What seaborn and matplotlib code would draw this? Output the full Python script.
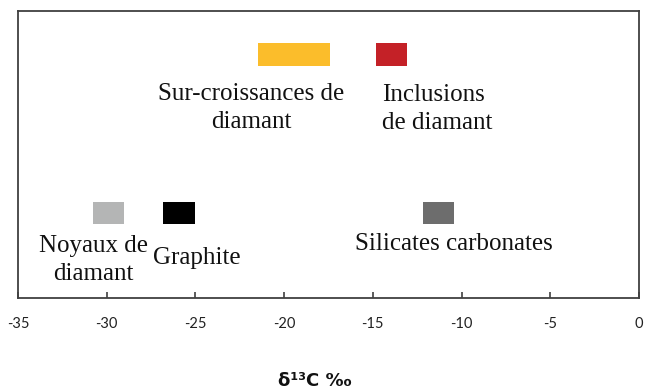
import matplotlib
matplotlib.use("Agg")
import matplotlib.pyplot as plt
import pandas as pd
import seaborn as sns

# plages de delta13C (en pour mille)
groupes = ["Sur-croissances de\ndiamant", "Inclusions\nde diamant",
           "Noyaux de\ndiamant", "Graphite", "Silicates carbonates"]
debut = [-21.45, -14.85, -30.8, -26.8, -12.2]
fin = [-17.4, -13.05, -29.0, -25.0, -10.4]
niveau = [8.48, 8.48, 2.96, 2.96, 2.96]
couleurs = ["#FBBD2B", "#C42127", "#B4B5B5", "#000000", "#6D6D6D"]

# position des libellés (x, y, alignement)
lab_x = [-21.85, -14.5, -30.75, -27.4, -10.45]
lab_y = [7.5, 7.45, 2.2, 1.78, 2.27]
lab_ha = ["center", "left", "center", "left", "center"]

ticks = [-35, -30, -25, -20, -15, -10, -5, 0]

sns.set_style("white")
plt.rcParams["axes.unicode_minus"] = False

df = pd.DataFrame({"groupe": groupes, "debut": debut, "fin": fin,
                   "niveau": niveau, "couleur": couleurs})
df["largeur"] = df["fin"] - df["debut"]

fig = plt.figure(figsize=(6.49, 3.92), dpi=100)
ax = fig.add_axes([18 / 649, 94 / 392, 621 / 649, 287 / 392])

ax.barh(df["niveau"], df["largeur"], left=df["debut"], height=0.78,
        color=df["couleur"], edgecolor="none")

for txt, x, y, ha in zip(groupes, lab_x, lab_y, lab_ha):
    ax.text(x, y, txt, ha=ha, va="top", fontsize=18, color="#111111",
            family="Liberation Serif", linespacing=1.37)

ax.set_xlim(-35, 0)
ax.set_ylim(0, 10)
ax.set_xticks(ticks)
ax.set_xticklabels([str(t) for t in ticks], family="Lato", fontsize=10.5,
                   color="#222222")
ax.set_yticks([])
ax.tick_params(axis="x", direction="in", length=4, width=1.2,
               color="#404040", pad=14, bottom=True)
for s in ax.spines.values():
    s.set_color("#404040")
    s.set_linewidth(1.3)

fig.text(315 / 649, 1 - 381 / 392, "δ¹³C ‰", ha="center", va="center",
         fontsize=13, fontweight="bold", family="DejaVu Sans", color="#111111")

fig.savefig("out.png", dpi=100)
